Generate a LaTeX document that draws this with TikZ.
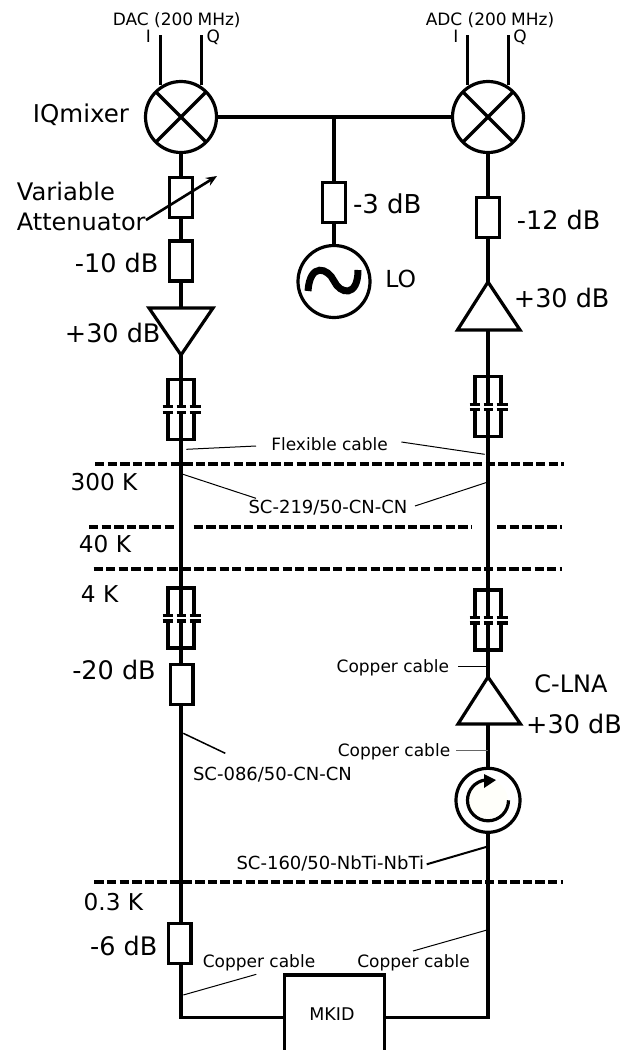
\documentclass[tikz,border=0pt]{standalone}
\usepackage{fontspec}
\setmainfont{DejaVu Sans}
\usetikzlibrary{arrows.meta}
\newcommand{\fsz}[1]{\fontsize{#1}{#1}\selectfont}
\tikzset{
  wire/.style={line width=3.2pt,line cap=butt,line join=miter},
  leader/.style={line width=1pt},
  attbox/.style={draw,line width=3.2pt,rectangle,minimum width=22.5pt,minimum height=40pt,inner sep=0pt,outer sep=0pt},
  mixer/.style={draw,line width=3.2pt,circle,minimum size=71pt,inner sep=0pt,outer sep=0pt},
  stage/.style={line width=4.4pt,dash pattern=on 9.3pt off 3.3pt},
  big/.style={font=\fsz{25.5},anchor=base,inner sep=0pt},
  mid/.style={font=\fsz{23.2},anchor=base,inner sep=0pt},
  small/.style={font=\fsz{17},anchor=base,inner sep=0pt},
  code/.style={font=\fsz{18},anchor=base,inner sep=0pt},
  dcblock/.pic={
    \coordinate (-top) at (0,0);
    \coordinate (-capa) at (0,27.4);
    \coordinate (-capb) at (0,33);
    \coordinate (-bot) at (0,60.7);
    \draw[wire] (-13,27.4) -- (-13,0) -- (13,0) -- (13,27.4);
    \draw[wire] (-13,33) -- (-13,60) -- (13,60) -- (13,33);
    \draw[wire] (-top) -- (-capa);
    \draw[wire] (-capb) -- (-bot);
    \foreach \yy in {27.4,33}{
      \draw[wire] (-18.5,\yy) -- (-8,\yy);
      \draw[wire] (-4.5,\yy) -- (5,\yy);
      \draw[wire] (8.5,\yy) -- (19.5,\yy);
    }
  }
}
\begin{document}
\begin{tikzpicture}[x=1pt,y=-1pt]
\useasboundingbox (0,0) rectangle (624,1050);
% mixers
\node[mixer] (mixL) at (181,117) {};
\node[mixer] (mixR) at (488,117) {};
\foreach \m in {mixL,mixR}{
  \draw[wire] (\m.north west) -- (\m.south east);
  \draw[wire] (\m.north east) -- (\m.south west);
}
\coordinate (iLt) at (160.5,35); \coordinate (iLb) at (160.5,85);
\coordinate (qLt) at (201.5,35); \coordinate (qLb) at (201.5,85);
\coordinate (iRt) at (467.7,35); \coordinate (iRb) at (467.7,85);
\coordinate (qRt) at (508.7,35); \coordinate (qRb) at (508.7,85);
\draw[wire] (iLt) -- (iLb);
\draw[wire] (qLt) -- (qLb);
\draw[wire] (iRt) -- (iRb);
\draw[wire] (qRt) -- (qRb);
% LO branch
\coordinate (tee) at (334,116);
\node[attbox] (att3) at (334,202.5) {};
\node[draw,line width=3.2pt,circle,minimum size=72pt,inner sep=0pt,outer sep=0pt] (lo) at (334,281.5) {};
\draw[line width=7pt] (308,291) .. controls (310,262) and (328,268) .. (334,281) .. controls (340,294) and (358,298) .. (358,270);
\draw[wire] (mixL.east) -- (mixR.west);
\draw[wire] (tee) -- (att3.north);
\draw[wire] (att3.south) -- (lo.north);
% left chain
\node[attbox] (va) at (181,197.5) {};
\node[attbox] (att10) at (181,261) {};
\coordinate (ampLc) at (181,308);
\coordinate (ampLa) at (149,308);
\coordinate (ampLb) at (213,308);
\coordinate (ampLt) at (181,355);
\draw[wire] (ampLa) -- (ampLb) -- (ampLt) -- cycle;
\pic (c1) at (181,379.3) {dcblock};
\pic (c2) at (181,588) {dcblock};
\node[attbox] (att20) at (181.7,684.7) {};
\node[attbox] (att6) at (179.7,943.3) {};
\draw[wire] (mixL.south) -- (va.north);
\draw[wire] (va.south) -- (att10.north);
\draw[wire] (att10.south) -- (ampLc);
\draw[wire] (ampLt) -- (c1-top);
\draw[wire] (c1-bot) -- (c2-top);
\draw[wire] (c2-bot) -- (c2-bot |- att20.north);
\draw[wire] (c2-bot |- att20.south) -- (c2-bot |- att6.north);
% right chain
\node[attbox] (att12) at (488,217.5) {};
\coordinate (ampRt) at (488,282);
\coordinate (ampRa) at (457.5,330);
\coordinate (ampRb) at (520,330);
\coordinate (ampRc) at (488,330);
\draw[wire] (ampRt) -- (ampRa) -- (ampRb) -- cycle;
\pic (c3) at (488,376.7) {dcblock};
\pic (c4) at (488,590) {dcblock};
\coordinate (lnaT) at (488,677);
\coordinate (lnaA) at (458,724);
\coordinate (lnaB) at (520.5,724);
\coordinate (lnaC) at (488,724);
\draw[wire] (lnaT) -- (lnaA) -- (lnaB) -- cycle;
\fill[fill=white!98!yellow] (488,800.3) circle[radius=20];
\node[draw,line width=3.2pt,circle,minimum size=64pt,inner sep=0pt,outer sep=0pt] (circ) at (488,800.3) {};
\draw[line width=3.2pt] (508.5,800.3) arc[start angle=0,end angle=262,radius=20.5];
\fill (496,780) -- (484,774) -- (484,788) -- cycle;
\draw[wire] (mixR.south) -- (att12.north);
\draw[wire] (att12.south) -- (ampRt);
\draw[wire] (ampRc) -- (c3-top);
\draw[wire] (c3-bot) -- (c4-top);
\draw[wire] (c4-bot) -- (lnaT);
\draw[wire] (lnaC) -- (circ.north);
% MKID
\node[rectangle,inner sep=0pt,outer sep=0pt,minimum width=100pt,minimum height=75pt] (mkid) at (334.6,1012.5) {};
\draw[wire] (mkid.south west) -- (mkid.north west) -- (mkid.north east) -- (mkid.south east);
\node[small,font=\fsz{17.5}] (mkidt) at (332,1020) {MKID};
\coordinate (mkIn) at (284.6,1017.3);
\coordinate (mkOut) at (384.6,1017.3);
\draw[wire] (att6.south -| c2-bot) |- (mkIn);
\draw[wire] (circ.south) |- (mkOut);
% stage lines
\coordinate (s1a) at (95,464); \coordinate (s1b) at (564,464);
\coordinate (s2a) at (89,527); \coordinate (s2b) at (174,527);
\coordinate (s2c) at (193.6,527); \coordinate (s2d) at (471,527);
\coordinate (s2e) at (497,527); \coordinate (s2f) at (562,527);
\coordinate (s3a) at (93.5,569); \coordinate (s3b) at (562,569);
\coordinate (s4a) at (94.4,881.7); \coordinate (s4b) at (562.7,881.7);
\draw[stage] (s1a) -- (s1b);
\draw[stage] (s2a) -- (s2b);
\draw[stage] (s2c) -- (s2d);
\draw[stage] (s2e) -- (s2f);
\draw[stage] (s3a) -- (s3b);
\draw[stage] (s4a) -- (s4b);
% labels
\node[small] (dac) at (176.7,25) {DAC (200\kern-1pt\ MHz)};
\node[small] (adc) at (490,25) {ADC (200\kern-1pt\ MHz)};
\node[small] (iL) at (148.3,42.7) {I};
\node[small] (qL) at (213.3,42.7) {Q};
\node[small] (iR) at (456,42.7) {I};
\node[small] (qR) at (520,42.7) {Q};
\node[big,font=\fsz{24.5}] (lmix) at (81,122.7) {IQmixer};
\node[mid,anchor=base west,font=\fsz{24.2}] (lvar) at (16.7,200) {Variable};
\node[mid,anchor=base west,font=\fsz{24}] (latt) at (16.7,230) {Attenuator};
\node[big] (l10) at (116.7,272.7) {-10 dB};
\node[big] (l30a) at (112.7,342.7) {+30 dB};
\node[big,font=\fsz{26}] (l3) at (387.3,213.3) {-3 dB};
\node[big] (l12) at (558.7,229.3) {-12 dB};
\node[mid,font=\fsz{23.5}] (llo) at (400.7,287.3) {LO};
\node[big] (l30b) at (561.7,307.3) {+30 dB};
\node[small] (flex) at (329.6,450) {Flexible cable};
\node[code] (sc219) at (328,513.3) {SC-219/50-CN-CN};
\node[mid] (k300) at (104,490.7) {300 K};
\node[mid] (k40) at (105,552.7) {40 K};
\node[mid] (k4) at (99.6,602.3) {4 K};
\node[big] (l20) at (114,679.3) {-20 dB};
\node[small] (cu1) at (392.9,672.7) {Copper cable};
\node[mid,font=\fsz{24}] (lna) at (571,692.7) {C-LNA};
\node[big] (l30c) at (574,733.3) {+30 dB};
\node[small] (cu2) at (394,756) {Copper cable};
\node[code] (sc086) at (272.5,780) {SC-086/50-CN-CN};
\node[code] (sc160) at (330.3,869) {SC-160/50-NbTi-NbTi};
\node[mid] (k03) at (113.4,910) {0.3 K};
\node[big] (l6) at (123.7,955) {-6 dB};
\node[small] (cu3) at (259,967.7) {Copper cable};
\node[small] (cu4) at (413.6,967.7) {Copper cable};
% leaders
\coordinate (vat) at (146,220); \coordinate (vah) at (217,176);
\draw[line width=2.6pt,-{Stealth[length=11pt,width=9pt]}] (vat) -- (vah);
\coordinate (f1a) at (186.4,449.3); \coordinate (f1b) at (256,446);
\coordinate (f2a) at (401.4,442); \coordinate (f2b) at (484.6,454.3);
\coordinate (g1a) at (183,474.3); \coordinate (g1b) at (256,498.3);
\coordinate (g2a) at (415,506); \coordinate (g2b) at (487,482.3);
\coordinate (h1a) at (458,666.7); \coordinate (h1b) at (488,666.7);
\coordinate (h2a) at (456,750); \coordinate (h2b) at (488,750);
\coordinate (j1a) at (183.3,733.3); \coordinate (j1b) at (225.3,753.3);
\coordinate (k1a) at (426.7,864.3); \coordinate (k1b) at (487,846.7);
\coordinate (m1a) at (183.3,995); \coordinate (m1b) at (256.3,974.3);
\coordinate (m2a) at (413,951); \coordinate (m2b) at (487,930);
\draw[leader] (f1a) -- (f1b);
\draw[leader] (f2a) -- (f2b);
\draw[leader] (g1a) -- (g1b);
\draw[leader] (g2a) -- (g2b);
\draw[leader] (h1a) -- (h1b);
\draw[leader,black!60] (h2a) -- (h2b);
\draw[line width=1.5pt] (j1a) -- (j1b);
\draw[line width=2pt] (k1a) -- (k1b);
\draw[leader] (m1a) -- (m1b);
\draw[leader] (m2a) -- (m2b);
\end{tikzpicture}
\end{document}
